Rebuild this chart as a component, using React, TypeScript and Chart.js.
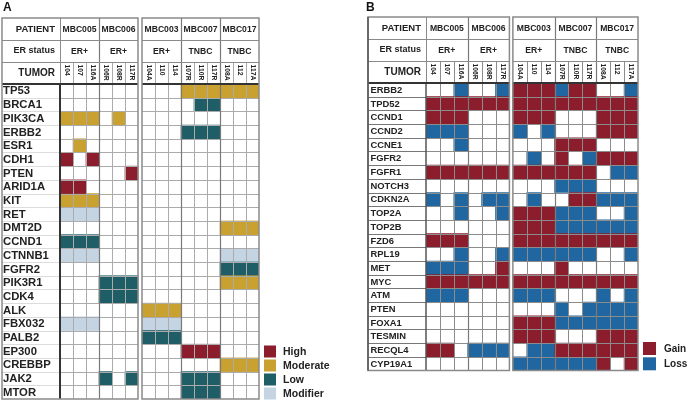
import React, { useEffect, useRef } from "react";
import { Chart, registerables } from "chart.js";
Chart.register(...registerables);

const tumors = ["104", "107", "116A", "106R", "108R", "117R", "104A", "110", "114", "107R", "110R", "117R", "108A", "112", "117A"];
const patients = ["MBC005", "MBC006", "MBC003", "MBC007", "MBC017"];
const erStatus = ["ER+", "ER+", "ER+", "TNBC", "TNBC"];

// Panel A: 1 = High, 2 = Moderate, 3 = Low, 4 = Modifier
const genesA = ["TP53", "BRCA1", "PIK3CA", "ERBB2", "ESR1", "CDH1", "PTEN", "ARID1A", "KIT", "RET", "DMT2D", "CCND1", "CTNNB1", "FGFR2", "PIK3R1", "CDK4", "ALK", "FBX032", "PALB2", "EP300", "CREBBP", "JAK2", "MTOR"];
const cellsA = [
  "000000|000222222",
  "000000|000033000",
  "222020|000000000",
  "000000|000333000",
  "020000|000000000",
  "101000|000000000",
  "000001|000000000",
  "110000|000000000",
  "222000|000000000",
  "444000|000000000",
  "000000|000000222",
  "333000|000000000",
  "444000|000000444",
  "000000|000000333",
  "000333|000000222",
  "000333|000000000",
  "000000|222000000",
  "444000|444000000",
  "000000|333000000",
  "000000|000111000",
  "000000|000000222",
  "000303|000333000",
  "000000|000333000",
];
const levelsA = ["High", "Moderate", "Low", "Modifier"];
const colorsA = ["#8c1d2c", "#c9a130", "#1f5e66", "#c4d4e3"];

// Panel B: 1 = Gain, 2 = Loss
const genesB = ["ERBB2", "TPD52", "CCND1", "CCND2", "CCNE1", "FGFR2", "FGFR1", "NOTCH3", "CDKN2A", "TOP2A", "TOP2B", "FZD6", "RPL19", "MET", "MYC", "ATM", "PTEN", "FOXA1", "TESMIN", "RECQL4", "CYP19A1"];
const cellsB = [
  "002002|111211002",
  "111111|111111111",
  "111000|111000111",
  "222000|202000111",
  "002000|000111000",
  "000000|020102111",
  "111111|111111022",
  "000000|000222000",
  "202022|020011222",
  "002002|111222002",
  "000000|111222222",
  "111000|111111111",
  "002002|222222002",
  "222001|000100000",
  "111111|111111111",
  "222000|222000202",
  "000000|000202222",
  "000000|111222222",
  "000000|111000111",
  "110222|022111111",
  "000000|222222101",
];
const levelsB = ["Gain", "Loss"];
const colorsB = ["#8c1d2c", "#2067a1"];

const FONT = "'Liberation Sans', Arial, Helvetica, sans-serif";

type Geo = {
  pageLeft: number;
  width: number;
  letter: string;
  letterX: number;
  tableLeft: number;
  labelRight: number;
  dataRight: number;
  tableTop: number;
  erTop: number;
  tumorTop: number;
  dataTop: number;
  dataBottom: number;
  gap: number;
  geneFont: number;
  geneX: number;
  boxed: boolean;
  grid: string;
  labelGrid: string;
  legendX: number;
  legendY: number;
  legendSize: number;
  legendStep: number;
  legendTextX: number;
  legendFont: number;
};

function Panel({ geo, genes, cells, levels, colors }: { geo: Geo; genes: string[]; cells: string[]; levels: string[]; colors: string[] }) {
  const ref = useRef<HTMLCanvasElement | null>(null);
  useEffect(() => {
    if (!ref.current) return;
    const colStart = (c: number) => (c < 6 ? c : c + geo.gap);
    const datasets = levels.map((lvl, k) => ({
      label: lvl,
      backgroundColor: colors[k],
      borderWidth: 0,
      barPercentage: 1,
      categoryPercentage: 1,
      grouped: false,
      data: genes.flatMap((g, r) =>
        cells[r]
          .replace("|", "")
          .split("")
          .map((ch, c) => (ch === String(k + 1) ? { y: g, x: [colStart(c), colStart(c) + 1] } : null))
          .filter((d) => d !== null)
      ),
    }));

    const plugin = {
      id: "tableDecor",
      afterDatasetsDraw(chart: any) {
        const { ctx, chartArea: a } = chart;
        const xs = chart.scales.x;
        const ys = chart.scales.y;
        const n = genes.length;
        const band = (a.bottom - a.top) / n;
        const colL = (c: number) => xs.getPixelForValue(colStart(c));
        const colR = (c: number) => xs.getPixelForValue(colStart(c) + 1);
        const rowT = (r: number) => ys.getPixelForValue(r) - band / 2;
        const s = (v: number) => Math.round(v) + 0.5;
        const line = (x1: number, y1: number, x2: number, y2: number, color: string, w: number) => {
          ctx.beginPath();
          ctx.strokeStyle = color;
          ctx.lineWidth = w;
          ctx.moveTo(x1, y1);
          ctx.lineTo(x2, y2);
          ctx.stroke();
        };
        ctx.save();
        const tables = [
          { c0: 0, c1: 5, label: true },
          { c0: 6, c1: 14, label: false },
        ];
        const top = geo.tableTop;
        for (const t of tables) {
          const L = t.label ? geo.tableLeft : colL(t.c0);
          const dL = colL(t.c0);
          const R = colR(t.c1);
          for (let c = t.c0; c < t.c1; c++) {
            line(s(colR(c)), geo.tumorTop, s(colR(c)), a.bottom, geo.grid, 1);
          }
          for (let r = 1; r < n; r++) {
            line(dL, s(rowT(r)), R, s(rowT(r)), geo.grid, 1);
            if (t.label) line(L, s(rowT(r)), dL, s(rowT(r)), geo.labelGrid, 1);
          }
          for (let c = t.c0 + 2; c < t.c1; c += 3) {
            line(s(colR(c)), top, s(colR(c)), a.bottom, "#7a7a7a", 1.2);
          }
          line(L, s(geo.erTop), R, s(geo.erTop), "#8a8a8a", 1);
          line(L, s(geo.tumorTop), R, s(geo.tumorTop), "#8a8a8a", 1);
          if (t.label) {
            line(s(dL), top, s(dL), geo.dataTop, "#8a8a8a", 1);
            line(Math.round(dL), geo.dataTop, Math.round(dL), a.bottom, geo.boxed ? "#555" : "#333", geo.boxed ? 1.5 : 2);
          }
          line(L, Math.round(geo.dataTop), R, Math.round(geo.dataTop), "#333", 2);
          ctx.strokeStyle = "#8a8a8a";
          ctx.lineWidth = 1.5;
          ctx.strokeRect(L, top, R - L, a.bottom - top);
          if (geo.boxed && t.label) {
            line(L, top, L, a.bottom, "#555", 1.5);
          }
        }

        ctx.fillStyle = "#222";
        ctx.textBaseline = "middle";
        ctx.textAlign = "center";
        ctx.font = `bold 8.6px ${FONT}`;
        patients.forEach((p, g) => {
          const cx = (colL(3 * g) + colR(3 * g + 2)) / 2;
          ctx.fillText(p, cx, (geo.tableTop + geo.erTop) / 2 + 0.5);
          ctx.fillText(erStatus[g], cx, (geo.erTop + geo.tumorTop) / 2 + 0.5);
        });
        ctx.font = `bold 6.8px ${FONT}`;
        ctx.textAlign = "left";
        tumors.forEach((tm, c) => {
          const cx = (colL(c) + colR(c)) / 2;
          ctx.save();
          ctx.translate(cx, geo.tumorTop + 2.5);
          ctx.rotate(Math.PI / 2);
          ctx.fillText(tm, 0, 0);
          ctx.restore();
        });
        ctx.textAlign = "right";
        const hx = geo.labelRight - 5;
        ctx.font = `bold 9.5px ${FONT}`;
        ctx.fillText("PATIENT", hx, (geo.tableTop + geo.erTop) / 2 + 0.5);
        ctx.font = `bold 9px ${FONT}`;
        ctx.fillText("ER status", hx, (geo.erTop + geo.tumorTop) / 2);
        ctx.font = `bold 10px ${FONT}`;
        ctx.fillText("TUMOR", hx, (geo.tumorTop + geo.dataTop) / 2 + 0.5);

        ctx.textAlign = "left";
        ctx.font = `bold ${geo.geneFont}px ${FONT}`;
        genes.forEach((g, r) => {
          ctx.fillText(g, geo.geneX, ys.getPixelForValue(r) + 0.5);
        });

        ctx.font = `bold 12px ${FONT}`;
        ctx.textBaseline = "top";
        ctx.fillStyle = "#111";
        ctx.fillText(geo.letter, geo.letterX, 2);

        ctx.textBaseline = "middle";
        ctx.font = `bold ${geo.legendFont}px ${FONT}`;
        chart.data.datasets.forEach((ds: any, i: number) => {
          const yy = geo.legendY + i * geo.legendStep;
          ctx.fillStyle = ds.backgroundColor;
          ctx.fillRect(geo.legendX, yy, geo.legendSize, geo.legendSize);
          ctx.fillStyle = "#222";
          ctx.fillText(ds.label, geo.legendTextX, yy + geo.legendSize / 2 + 0.5);
        });
        ctx.restore();
      },
    };

    const chart = new Chart(ref.current, {
      type: "bar",
      data: { labels: genes, datasets: datasets as any },
      options: {
        indexAxis: "y",
        animation: false,
        responsive: false,
        devicePixelRatio: 1,
        layout: {
          padding: {
            left: geo.labelRight,
            top: geo.dataTop,
            right: geo.width - geo.dataRight,
            bottom: 401 - geo.dataBottom,
          },
        },
        scales: {
          x: { type: "linear", min: 0, max: 15 + geo.gap, display: false },
          y: { type: "category", display: false, offset: true },
        },
        plugins: { legend: { display: false }, tooltip: { enabled: false } },
      },
      plugins: [plugin],
    });
    return () => chart.destroy();
  }, []);
  return (
    <canvas
      ref={ref}
      width={geo.width}
      height={401}
      style={{ position: "absolute", left: geo.pageLeft, top: 0, width: geo.width, height: 401 }}
    />
  );
}

const geoA: Geo = {
  pageLeft: 0,
  width: 345,
  letter: "A",
  letterX: 3,
  tableLeft: 2,
  labelRight: 60,
  dataRight: 259,
  tableTop: 18,
  erTop: 40,
  tumorTop: 62,
  dataTop: 84,
  dataBottom: 399,
  gap: 0.3077,
  geneFont: 11.3,
  geneX: 3,
  boxed: false,
  grid: "#ababab",
  labelGrid: "#dcdcdc",
  legendX: 264,
  legendY: 345.5,
  legendSize: 12,
  legendStep: 14,
  legendTextX: 283,
  legendFont: 10.5,
};

const geoB: Geo = {
  pageLeft: 345,
  width: 345,
  letter: "B",
  letterX: 21,
  tableLeft: 23,
  labelRight: 81,
  dataRight: 293,
  tableTop: 17,
  erTop: 38.5,
  tumorTop: 61,
  dataTop: 83,
  dataBottom: 370.5,
  gap: 0.25,
  geneFont: 9.4,
  geneX: 25.5,
  boxed: true,
  grid: "#8c8c8c",
  labelGrid: "#777",
  legendX: 298,
  legendY: 342,
  legendSize: 13,
  legendStep: 15.3,
  legendTextX: 319,
  legendFont: 10,
};

export default function App() {
  return (
    <div style={{ position: "absolute", left: 0, top: 0, width: 690, height: 401, background: "#fff" }}>
      <Panel geo={geoA} genes={genesA} cells={cellsA} levels={levelsA} colors={colorsA} />
      <Panel geo={geoB} genes={genesB} cells={cellsB} levels={levelsB} colors={colorsB} />
    </div>
  );
}
